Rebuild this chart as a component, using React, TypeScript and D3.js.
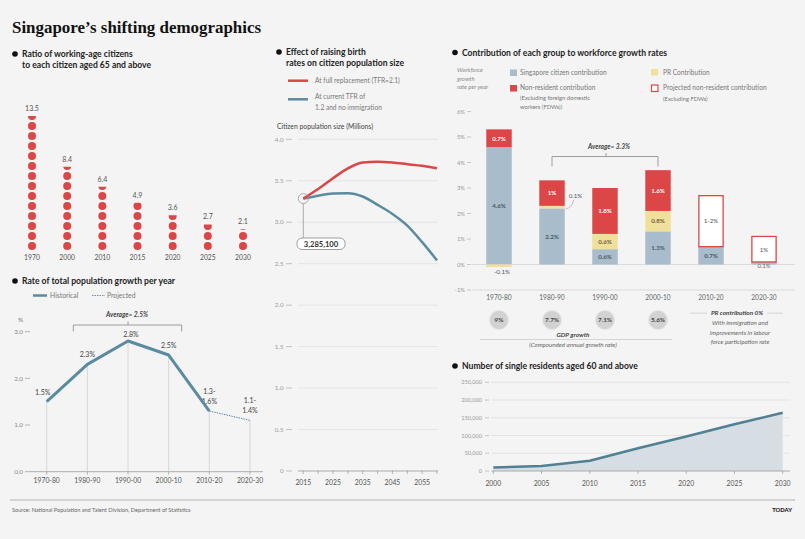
import React from 'react';
import * as d3 from 'd3';

// ---- data ----
const ratioYears = ['1970', '2000', '2010', '2015', '2020', '2025', '2030'];
const ratioValues = [13.5, 8.4, 6.4, 4.9, 3.6, 2.7, 2.1];

const growthPeriods = ['1970-80', '1980-90', '1990-00', '2000-10', '2010-20', '2020-30'];
const growthValues = [1.5, 2.3, 2.8, 2.5, 1.3, 1.1];
const growthLabels = [['1.5%'], ['2.3%'], ['2.8%'], ['2.5%'], ['1.3-', '1.6%'], ['1.1-', '1.4%']];
const growthTicks = [0, 1, 2, 3];

const popYears = [2015, 2020, 2025, 2030, 2035, 2040, 2045, 2050, 2055, 2060];
const popReplacement = [3.285, 3.4, 3.53, 3.65, 3.72, 3.73, 3.72, 3.7, 3.68, 3.65];
const popCurrent = [3.285, 3.32, 3.345, 3.35, 3.31, 3.21, 3.1, 2.96, 2.76, 2.54];
const popTicks = [0, 0.5, 1, 1.5, 2, 2.5, 3, 3.5, 4];
const popYearLabels = [2015, 2025, 2035, 2045, 2055];

const workPeriods = ['1970-80', '1980-90', '1990-00', '2000-10', '2010-20', '2020-30'];
const citizenContrib = [4.6, 2.2, 0.6, 1.3, 0.7, 0.1];
const prContrib = [-0.1, 0.1, 0.6, 0.8, 0, 0];
const nonResContrib = [0.7, 1, 1.8, 1.6, 0, 0];
const projectedNonRes = [0, 0, 0, 0, 2, 1];
const citizenLabels = ['4.6%', '2.2%', '0.6%', '1.3%', '0.7%', '0.1%'];
const prLabels = ['-0.1%', '0.1%', '0.6%', '0.8%', '', ''];
const nonResLabels = ['0.7%', '1%', '1.8%', '1.6%', '', ''];
const projectedLabels = ['', '', '', '', '1-2%', '1%'];
const workTicks = [-1, 0, 1, 2, 3, 4, 5, 6];
const gdpGrowth = ['9%', '7.7%', '7.1%', '5.6%'];

const singleYears = [2000, 2005, 2010, 2015, 2020, 2025, 2030];
const singleValues = [10000, 14000, 29000, 64000, 97000, 132000, 164000];
const singleTicks = [0, 50000, 100000, 150000, 200000, 250000];

// ---- styles ----
const BG = '#f4f4f4';
const SANS = 'Lato, "Open Sans", sans-serif';
const SERIF = '"Liberation Serif", "DejaVu Serif", serif';
const RED = '#dc4646';
const STEEL = '#5a8ba0';
const CITIZEN = '#a8bccb';
const PR = '#f1e09a';
const TXT = '#333';
const MUTED = '#777';

const Header = ({ x, y, lines }: { x: number; y: number; lines: string[] }) => (
  <g>
    <circle cx={x} cy={y - 3} r={2.8} fill="#111" />
    {lines.map((l, i) => (
      <text key={i} x={x + 7} y={y + i * 10.5} fontFamily={SANS} fontWeight={700} fontSize={8.6} fill="#222">
        {l}
      </text>
    ))}
  </g>
);

export default function App() {
  // ratio dot chart
  const xRatio = d3.scalePoint<string>().domain(ratioYears).range([32, 243]);
  const yDot = d3.scaleLinear().domain([0, 13]).range([246, 116]);
  const rDot = 4;

  // growth line chart
  const xG = d3.scalePoint<string>().domain(growthPeriods).range([46.7, 250]);
  const yG = d3.scaleLinear().domain([0, 3]).range([471.7, 331.7]);
  const gLine = d3
    .line<number>()
    .x((_, i) => xG(growthPeriods[i])!)
    .y((d) => yG(d));
  const histPath = gLine(growthValues.slice(0, 5))!;
  const projPath = d3
    .line<number>()
    .x((_, i) => xG(growthPeriods[i + 4])!)
    .y((d) => yG(d))(growthValues.slice(4))!;

  // population lines
  const xP = d3.scaleLinear().domain([2015, 2060]).range([303.3, 437]);
  const yP = d3.scaleLinear().domain([0, 4]).range([471, 139.3]);
  const pLine = d3
    .line<number>()
    .x((_, i) => xP(popYears[i]))
    .y((d) => yP(d))
    .curve(d3.curveMonotoneX);
  const popTickMarks = d3.range(2015, 2061, 5);

  // workforce bars
  const xW = d3.scaleBand<string>().domain(workPeriods).range([472.5, 790.5]).paddingInner(0.52).paddingOuter(0.26);
  const yW = d3.scaleLinear().domain([-1, 6]).range([290, 111.5]);
  const bw = xW.bandwidth();

  // single residents area
  const xS = d3.scaleLinear().domain([2000, 2030]).range([493.3, 782.7]);
  const yS = d3.scaleLinear().domain([0, 250000]).range([471, 382.3]);
  const sArea = d3
    .area<number>()
    .x((_, i) => xS(singleYears[i]))
    .y0(yS(0))
    .y1((d) => yS(d));
  const sLine = d3
    .line<number>()
    .x((_, i) => xS(singleYears[i]))
    .y((d) => yS(d));

  return (
    <div style={{ position: 'absolute', left: 0, top: 0 }}>
      <svg width={805} height={539} viewBox="0 0 805 539" style={{ display: 'block' }}>
        <rect width={805} height={539} fill={BG} />
        <text x={12} y={32.5} fontFamily={SERIF} fontWeight={700} fontSize={17} fill="#111" textLength={249} lengthAdjust="spacingAndGlyphs">
          Singapore’s shifting demographics
        </text>

        {/* ---------- ratio dots ---------- */}
        <Header x={15} y={57} lines={['Ratio of working-age citizens', 'to each citizen aged 65 and above']} />
        <defs>
          {ratioValues.map((v, i) => {
            const frac = v - Math.floor(v);
            const cy = yDot(Math.floor(v));
            const top = cy + rDot - 2 * rDot * frac;
            return (
              <clipPath key={i} id={`partial-${i}`}>
                <rect x={xRatio(ratioYears[i])! - 6} y={top} width={12} height={cy + rDot - top + 1} />
              </clipPath>
            );
          })}
        </defs>
        {ratioValues.map((v, i) => {
          const cx = xRatio(ratioYears[i])!;
          const full = Math.floor(v);
          const frac = v - full;
          const visibleTop = frac > 0 ? yDot(full) + rDot - 2 * rDot * frac : yDot(full - 1) - rDot;
          return (
            <g key={i}>
              {d3.range(full).map((k) => (
                <circle key={k} cx={cx} cy={yDot(k)} r={rDot} fill={RED} />
              ))}
              {frac > 0 && <circle cx={cx} cy={yDot(full)} r={rDot} fill={RED} clipPath={`url(#partial-${i})`} />}
              <text x={cx} y={visibleTop - 5} textAnchor="middle" fontFamily={SANS} fontSize={7} fill="#555">
                {v}
              </text>
              <text x={cx} y={259.5} textAnchor="middle" fontFamily={SANS} fontSize={6.8} fill="#555">
                {ratioYears[i]}
              </text>
            </g>
          );
        })}

        {/* ---------- growth line ---------- */}
        <Header x={15} y={284} lines={['Rate of total population growth per year']} />
        <line x1={33} x2={47} y1={295.5} y2={295.5} stroke={STEEL} strokeWidth={2.5} />
        <text x={50} y={298} fontFamily={SANS} fontSize={6.8} fill={MUTED}>Historical</text>
        <line x1={92} x2={105} y1={295.5} y2={295.5} stroke={STEEL} strokeWidth={0.9} strokeDasharray="1.5,1" />
        <text x={107} y={298} fontFamily={SANS} fontSize={6.8} fill={MUTED}>Projected</text>
        <text x={18} y={322} fontFamily={SANS} fontSize={6.5} fill={MUTED}>%</text>
        {growthTicks.map((t) => (
          <g key={t}>
            <text x={23} y={yG(t) + 2.3} textAnchor="end" fontFamily={SANS} fontSize={6.3} fill="#888">{t.toFixed(1)}</text>
            <line x1={25} x2={30} y1={yG(t)} y2={yG(t)} stroke="#999" strokeWidth={0.7} />
          </g>
        ))}
        <line x1={30} x2={263} y1={yG(0)} y2={yG(0)} stroke="#999" strokeWidth={0.8} />
        {growthPeriods.map((p, i) => (
          <g key={p}>
            <line x1={xG(p)} x2={xG(p)} y1={yG(growthValues[i])} y2={yG(0)} stroke="#c4c4c4" strokeWidth={0.6} />
            <line x1={xG(p)} x2={xG(p)} y1={yG(0)} y2={yG(0) + 3} stroke="#999" strokeWidth={0.7} />
            <text x={xG(p)} y={483} textAnchor="middle" fontFamily={SANS} fontSize={6.8} fill="#555">{p}</text>
            {growthLabels[i].map((l, k) => (
              <text
                key={k}
                x={xG(p)! + (i === 0 ? -4 : i === 2 ? 3 : 0)}
                y={yG(growthValues[i]) - (i === 2 ? 4 : 7) - (growthLabels[i].length - 1 - k) * 10.5}
                textAnchor="middle"
                fontFamily={SANS}
                fontSize={7}
                fill="#444"
              >
                {l}
              </text>
            ))}
          </g>
        ))}
        <path d={histPath} fill="none" stroke={STEEL} strokeWidth={3} strokeLinejoin="round" />
        <path d={projPath} fill="none" stroke={STEEL} strokeWidth={1} strokeDasharray="1.5,1" />
        <text x={127} y={317} textAnchor="middle" fontFamily={SANS} fontStyle="italic" fontWeight={700} fontSize={6.6} fill="#444">Average= 2.5%</text>
        <path
          d={`M${xG('1980-90')! - 14},331.5V325H${xG('2000-10')! + 13}V331.5M${xG('1990-00')},325V321.5`}
          fill="none"
          stroke="#888"
          strokeWidth={0.8}
        />

        {/* ---------- population lines ---------- */}
        <Header x={279} y={55} lines={['Effect of raising birth', 'rates on citizen population size']} />
        <line x1={288} x2={308} y1={80.7} y2={80.7} stroke={RED} strokeWidth={2.5} />
        <text x={315} y={83} fontFamily={SANS} fontSize={6.6} fill={MUTED}>At full replacement (TFR=2.1)</text>
        <line x1={288} x2={308} y1={99.3} y2={99.3} stroke={STEEL} strokeWidth={2.5} />
        <text x={315} y={99} fontFamily={SANS} fontSize={6.6} fill={MUTED}>At current TFR of</text>
        <text x={315} y={110} fontFamily={SANS} fontSize={6.6} fill={MUTED}>1.2 and no immigration</text>
        <text x={277} y={128.5} fontFamily={SANS} fontSize={6.8} fill="#444">Citizen population size (Millions)</text>
        {popTicks.map((t) => (
          <g key={t}>
            {t > 0 && <line x1={298} x2={438} y1={yP(t)} y2={yP(t)} stroke="#e0e0e0" strokeWidth={0.8} />}
            <text x={283.5} y={yP(t) + 2.2} textAnchor="end" fontFamily={SANS} fontSize={6.2} fill="#999">{t === 0 ? '0' : t.toFixed(1)}</text>
            <line x1={286} x2={292} y1={yP(t)} y2={yP(t)} stroke="#aaa" strokeWidth={0.7} />
          </g>
        ))}
        <line x1={298} x2={438} y1={yP(0)} y2={yP(0)} stroke="#999" strokeWidth={0.8} />
        {popTickMarks.map((yr) => (
          <line key={yr} x1={xP(yr)} x2={xP(yr)} y1={yP(0) - 0.5} y2={yP(0) + 3} stroke="#999" strokeWidth={0.7} />
        ))}
        {popYearLabels.map((yr) => (
          <text key={yr} x={xP(yr)} y={485} textAnchor="middle" fontFamily={SANS} fontSize={6.8} fill="#555">{yr}</text>
        ))}
        <path d={pLine(popCurrent)!} fill="none" stroke={STEEL} strokeWidth={2.5} />
        <path d={pLine(popReplacement)!} fill="none" stroke={RED} strokeWidth={2.5} />
        <circle cx={xP(2015)} cy={yP(popReplacement[0])} r={5} fill="none" stroke="#999" strokeWidth={0.8} />
        <line x1={xP(2015)} x2={xP(2015)} y1={yP(popReplacement[0]) + 5} y2={238} stroke="#999" strokeWidth={0.8} />
        <rect x={297} y={238} width={48} height={11.5} rx={5} fill="#fff" stroke="#888" strokeWidth={0.8} />
        <text x={321} y={246.6} textAnchor="middle" fontFamily={SANS} fontWeight={700} fontSize={7.6} fill="#333">3,285,100</text>

        {/* ---------- workforce bars ---------- */}
        <Header x={455} y={55.5} lines={['Contribution of each group to workforce growth rates']} />
        {['Workforce', 'growth', 'rate per year'].map((l, i) => (
          <text key={l} x={457} y={72 + i * 8.7} fontFamily={SANS} fontStyle="italic" fontSize={6} fill="#888">{l}</text>
        ))}
        <rect x={510} y={69.5} width={7} height={6.5} fill={CITIZEN} />
        <text x={520} y={75} fontFamily={SANS} fontSize={6.6} fill={MUTED}>Singapore citizen contribution</text>
        <rect x={510} y={85} width={7} height={6.5} fill={RED} />
        <text x={520} y={90} fontFamily={SANS} fontSize={6.6} fill={MUTED}>Non-resident contribution</text>
        <text x={520} y={99.5} fontFamily={SANS} fontSize={5.8} fill={MUTED}>(Excluding foreign domestic</text>
        <text x={520} y={108.5} fontFamily={SANS} fontSize={5.8} fill={MUTED}>workers (FDWs))</text>
        <rect x={651} y={69} width={7} height={6.5} fill={PR} />
        <text x={663} y={75} fontFamily={SANS} fontSize={6.6} fill={MUTED}>PR Contribution</text>
        <rect x={651.5} y={85} width={6.5} height={6.5} fill="#fff" stroke={RED} strokeWidth={1.2} />
        <text x={663} y={90} fontFamily={SANS} fontSize={6.6} fill={MUTED}>Projected non-resident contribution</text>
        <text x={663} y={100.5} fontFamily={SANS} fontSize={5.8} fill={MUTED}>(Excluding FDWs)</text>

        {workTicks.map((t) => (
          <g key={t}>
            <text x={465} y={yW(t) + 2} textAnchor="end" fontFamily={SANS} fontSize={5.8} fill="#999">{`${t}%`}</text>
            <line x1={467} x2={471} y1={yW(t)} y2={yW(t)} stroke="#aaa" strokeWidth={0.6} />
          </g>
        ))}
        <line x1={472} x2={795} y1={yW(0)} y2={yW(0)} stroke="#d4d4d4" strokeWidth={0.8} />
        <line x1={472} x2={795} y1={yW(-1)} y2={yW(-1)} stroke="#d4d4d4" strokeWidth={0.8} />
        {workPeriods.map((p, i) => {
          const x = xW(p)!;
          const cx = x + bw / 2;
          const c = citizenContrib[i];
          const prPos = Math.max(prContrib[i], 0);
          const prTop = c + prPos;
          const nrTop = prTop + nonResContrib[i];
          const projTop = nrTop + projectedNonRes[i];
          return (
            <g key={p}>
              <rect x={x} y={yW(c)} width={bw} height={yW(0) - yW(c)} fill={CITIZEN} />
              {prContrib[i] < 0 && <rect x={x} y={yW(0)} width={bw} height={yW(prContrib[i]) - yW(0)} fill={PR} />}
              {prPos > 0 && <rect x={x} y={yW(prTop)} width={bw} height={yW(c) - yW(prTop)} fill={PR} />}
              {nonResContrib[i] > 0 && <rect x={x} y={yW(nrTop)} width={bw} height={yW(prTop) - yW(nrTop)} fill={RED} />}
              {projectedNonRes[i] > 0 && (
                <rect x={x + 0.6} y={yW(projTop)} width={bw - 1.2} height={yW(nrTop) - yW(projTop)} fill="#fff" stroke={RED} strokeWidth={1.3} />
              )}
              {/* labels */}
              {i < 5 ? (
                <text x={cx} y={yW(c / 2) + 2.3} textAnchor="middle" fontFamily={SANS} fontWeight={700} fontSize={6.2} fill="#4a5a66">{citizenLabels[i]}</text>
              ) : (
                <text x={cx} y={yW(0) + 3.6} textAnchor="middle" fontFamily={SANS} fontSize={6} fill="#666">{citizenLabels[i]}</text>
              )}
              {prLabels[i] && prContrib[i] < 0 && (
                <text x={cx + 3} y={yW(-0.36)} textAnchor="middle" fontFamily={SANS} fontSize={6.2} fill="#555">{prLabels[i]}</text>
              )}
              {prLabels[i] && prContrib[i] > 0 && prContrib[i] < 0.3 && (
                <g>
                  <path d={`M${x + bw + 1},${yW(prTop) + 3} Q${x + bw + 7},${yW(prTop) + 2} ${x + bw + 9},${yW(prTop) - 6}`} fill="none" stroke="#999" strokeWidth={0.6} />
                  <text x={x + bw + 4} y={yW(prTop) - 8} fontFamily={SANS} fontSize={6.2} fill="#555">{prLabels[i]}</text>
                </g>
              )}
              {prLabels[i] && prContrib[i] >= 0.3 && (
                <text x={cx} y={yW(c + prPos / 2) + 2.3} textAnchor="middle" fontFamily={SANS} fontWeight={700} fontSize={6.2} fill="#6d6240">{prLabels[i]}</text>
              )}
              {nonResLabels[i] && (
                <text x={cx} y={yW(prTop + nonResContrib[i] / 2) + 2.3} textAnchor="middle" fontFamily={SANS} fontWeight={700} fontSize={6.2} fill="#fff">{nonResLabels[i]}</text>
              )}
              {projectedLabels[i] && (
                <text x={cx} y={yW(nrTop + projectedNonRes[i] / 2) + 2.3} textAnchor="middle" fontFamily={SANS} fontSize={6.2} fill="#555">{projectedLabels[i]}</text>
              )}
              <text x={cx} y={299.5} textAnchor="middle" fontFamily={SANS} fontSize={6.6} fill="#666">{p}</text>
              {i < gdpGrowth.length && (
                <g>
                  <circle cx={cx} cy={320} r={9.5} fill="#d2d2d2" stroke="#e6e6e6" strokeWidth={1} />
                  <text x={cx} y={322.3} textAnchor="middle" fontFamily={SANS} fontWeight={700} fontSize={6.4} fill="#444">{gdpGrowth[i]}</text>
                </g>
              )}
            </g>
          );
        })}
        <text x={609} y={148.5} textAnchor="middle" fontFamily={SANS} fontStyle="italic" fontWeight={700} fontSize={6.6} fill="#444">Average= 3.3%</text>
        <path
          d={`M${xW('1980-90')! + bw / 2},166.5V156.5H${xW('2000-10')! + bw / 2}V166.5M${(xW('1980-90')! + xW('2000-10')!) / 2 + bw / 2 + 1},156.5V153`}
          fill="none"
          stroke="#888"
          strokeWidth={0.8}
        />
        <line x1={480} x2={672} y1={339.5} y2={339.5} stroke="#ccc" strokeWidth={0.8} />
        <text x={573} y={337.2} textAnchor="middle" fontFamily={SANS} fontStyle="italic" fontWeight={700} fontSize={6.4} fill="#444">GDP growth</text>
        <text x={573} y={346.5} textAnchor="middle" fontFamily={SANS} fontStyle="italic" fontSize={6.2} fill="#666">(Compounded annual growth rate)</text>
        <line x1={690} x2={783} y1={313.2} y2={313.2} stroke="#ccc" strokeWidth={0.8} />
        <rect x={707} y={308} width={60} height={9} fill={BG} />
        <text x={737} y={314.6} textAnchor="middle" fontFamily={SANS} fontStyle="italic" fontWeight={700} fontSize={6.4} fill="#444">PR contribution 0%</text>
        {['With immigration and', 'improvements in labour', 'force participation rate'].map((l, i) => (
          <text key={l} x={740} y={325.3 + i * 9.2} textAnchor="middle" fontFamily={SANS} fontStyle="italic" fontSize={6.2} fill="#666">{l}</text>
        ))}

        {/* ---------- single residents area ---------- */}
        <Header x={455} y={369} lines={['Number of single residents aged 60 and above']} />
        {singleTicks.map((t) => (
          <g key={t}>
            {t > 0 && <line x1={491.5} x2={790} y1={yS(t)} y2={yS(t)} stroke="#e0e0e0" strokeWidth={0.8} />}
            <text x={482} y={yS(t) + 2} textAnchor="end" fontFamily={SANS} fontSize={5.6} fill="#999">{d3.format(',')(t)}</text>
            <line x1={485} x2={489} y1={yS(t)} y2={yS(t)} stroke="#aaa" strokeWidth={0.6} />
          </g>
        ))}
        <path d={sArea(singleValues)!} fill="#d6dee3" />
        <line x1={491.5} x2={790} y1={yS(0)} y2={yS(0)} stroke="#999" strokeWidth={0.8} />
        <path d={sLine(singleValues)!} fill="none" stroke="#4f8094" strokeWidth={2.5} strokeLinejoin="round" />
        {singleYears.map((yr) => (
          <g key={yr}>
            <line x1={xS(yr)} x2={xS(yr)} y1={yS(0)} y2={yS(0) + 3} stroke="#999" strokeWidth={0.7} />
            <text x={xS(yr)} y={485.5} textAnchor="middle" fontFamily={SANS} fontSize={6.8} fill="#555">{yr}</text>
          </g>
        ))}

        {/* ---------- footer ---------- */}
        <line x1={10} x2={795} y1={500} y2={500} stroke="#c8c8c8" strokeWidth={1.5} />
        <text x={12} y={511.5} fontFamily={SANS} fontSize={5.6} fill="#666">Source: National Population and Talent Division, Department of Statistics</text>
        <text x={792} y={511.5} textAnchor="end" fontFamily={SANS} fontWeight={900} fontSize={5.8} fill="#222">TODAY</text>
      </svg>
    </div>
  );
}
